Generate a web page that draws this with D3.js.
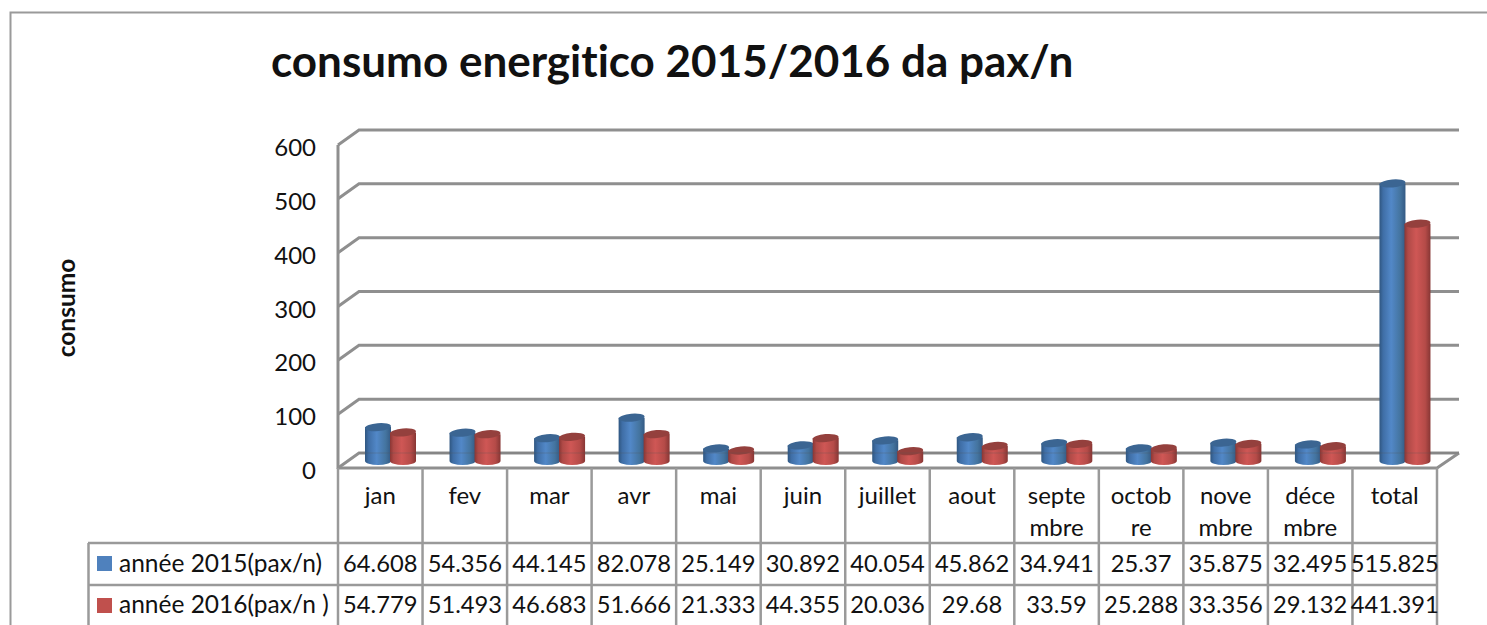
<!DOCTYPE html>
<html><head><meta charset="utf-8">
<script src="https://cdn.jsdelivr.net/npm/d3@7"></script>
<style>html,body{margin:0;padding:0;background:#fff;overflow:hidden}svg{display:block}text{font-family:Lato,"Open Sans",sans-serif;fill:#111;font-variant-ligatures:none}</style>
</head><body><svg id="c" width="1487" height="625"></svg>
<script>
const categories=["jan","fev","mar","avr","mai","juin","juillet","aout","septe|mbre","octob|re","nove|mbre","déce|mbre","total"];
const values2015=[64.608,54.356,44.145,82.078,25.149,30.892,40.054,45.862,34.941,25.37,35.875,32.495,515.825];
const values2016=[54.779,51.493,46.683,51.666,21.333,44.355,20.036,29.68,33.59,25.288,33.356,29.132,441.391];
const seriesNames=["année 2015(pax/n)","année 2016(pax/n )"];
const yTicks=[0,100,200,300,400,500,600];
const titleText="consumo energitico 2015/2016 da pax/n";
const yTitle="consumo";

const W=1487,H=625,GRID="#8f8f8f",BORDER="#9a9a9a";
const fx=338,fr=1437,depthX=21,depthY=15;
const svg=d3.select("#c");
const defs=svg.append("defs");
function grad(id,stops){const g=defs.append("linearGradient").attr("id",id);stops.forEach(s=>g.append("stop").attr("offset",s[0]).attr("stop-color",s[1]));}
grad("gb",[[0,"#2f5680"],[.14,"#3f6ea6"],[.45,"#5288c8"],[.8,"#44749f"],[1,"#345a84"]]);
grad("gr",[[0,"#8a3634"],[.14,"#b04a47"],[.45,"#cf5755"],[.8,"#b54b48"],[1,"#873634"]]);

// outer frame
svg.append("path").attr("d",`M10.5,${H}V12.5H${W}`).attr("fill","none").attr("stroke",BORDER).attr("stroke-width",2);

const yF=d3.scaleLinear().domain([0,600]).range([468,145]);
const yB=v=>yF(v)-depthY;
const yBar=d3.scaleLinear().domain([0,600]).range([462,138]);
const xBand=d3.scaleBand().domain(categories).range([fx,fr]);

// walls and gridlines
const g=svg.append("g").attr("fill","none").attr("stroke",GRID);
g.selectAll("path.grid").data(yTicks).join("path").attr("class","grid")
 .attr("stroke-width",3)
 .attr("d",d=>`M${fx},${yF(d)}L${fx+depthX},${yB(d)}H1459`);
g.append("line").attr("x1",fx).attr("x2",fx).attr("y1",yF(600)).attr("y2",yF(0)+1).attr("stroke-width",3);
g.append("path").attr("d",`M${fx-1},${yF(0)}H${fr}L1459,${yB(0)}`).attr("stroke-width",3);

// y axis labels
const ax=svg.append("g").attr("transform",`translate(316,2)`).call(d3.axisLeft(yF).tickValues(yTicks).tickSize(0).tickPadding(0));
ax.select(".domain").remove();
ax.selectAll("text").style("font-family","Lato").style("font-size","24px").attr("fill","#111").attr("dy","0.36em").attr("x",0);

// cylinders
const barW=26,rx=13,ry=4;
function cyl(sel,vals,off,gid,top){
  sel.selectAll("g").data(vals).join("g").each(function(v,i){
    const s=d3.select(this),x=xBand(categories[i])+off,y=yBar(v),b=461;
    s.append("path").attr("d",`M${x},${y}V${b}A${rx},${ry} 0 0 0 ${x+barW},${b}V${y}Z`).attr("fill",`url(#${gid})`);
    s.append("ellipse").attr("cx",x+rx).attr("cy",y).attr("rx",rx).attr("ry",ry)
     .attr("transform",`rotate(-5 ${x+rx} ${y})`).attr("fill",top);
  });
}
cyl(svg.append("g"),values2015,27,"gb","#3b6592");
cyl(svg.append("g"),values2016,52,"gr","#94403d");
// gridline ghost through bars
svg.append("line").attr("x1",fx+depthX).attr("x2",1459).attr("y1",yB(0)).attr("y2",yB(0)).attr("stroke","#555").attr("stroke-opacity",.14).attr("stroke-width",2);

// title
svg.append("text").attr("x",271).attr("y",77).attr("font-size",44).attr("font-weight",700).text(titleText);
svg.append("text").attr("transform","translate(75,308) rotate(-90)").attr("text-anchor","middle").attr("font-size",24.5).attr("font-weight",700).text(yTitle);

// data table
const rows=[468,543,585,627];
const t=svg.append("g");
const tl=t.append("g").attr("stroke",BORDER).attr("stroke-width",2.5);
tl.selectAll("line.v").data(d3.range(14)).join("line").attr("class","v")
  .attr("x1",i=>fx+i*xBand.bandwidth()).attr("x2",i=>fx+i*xBand.bandwidth()).attr("y1",468).attr("y2",H);
tl.selectAll("line.h").data(rows.slice(1,3)).join("line").attr("class","h")
  .attr("x1",88).attr("x2",fr).attr("y1",d=>d).attr("y2",d=>d);
tl.append("line").attr("x1",88.5).attr("x2",88.5).attr("y1",543).attr("y2",H);

categories.forEach(c=>{
  const cx=xBand(c)+xBand.bandwidth()/2;
  c.split("|").forEach((l,j)=>t.append("text").attr("x",cx).attr("y",504+j*32).attr("text-anchor","middle").attr("font-size",24).text(l));
});
[values2015,values2016].forEach((vals,r)=>{
  const by=[572,613][r];
  vals.forEach((v,i)=>t.append("text").attr("x",xBand(categories[i])+xBand.bandwidth()/2).attr("y",by)
    .attr("text-anchor","middle").attr("font-size",23.7).text(String(v)));
  t.append("rect").attr("x",97).attr("y",[556,598][r]).attr("width",15).attr("height",15).attr("fill",["#4f81bd","#c0504d"][r]);
  t.append("text").attr("x",119).attr("y",by).attr("font-size",24.5).text(seriesNames[r]);
});
</script></body></html>
